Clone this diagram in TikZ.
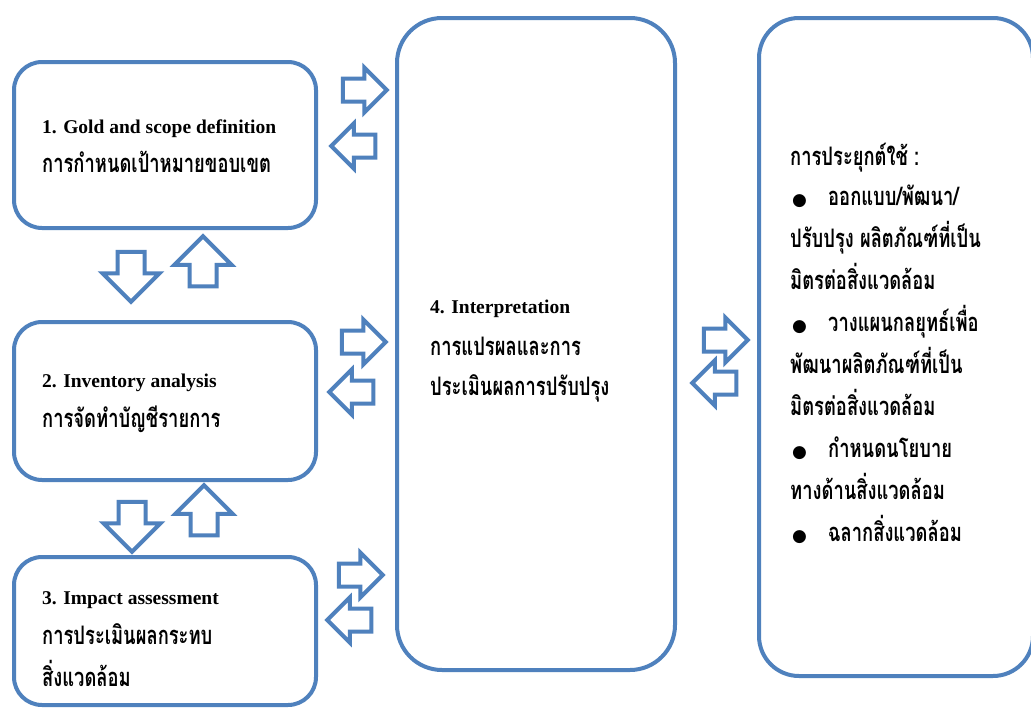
\documentclass[tikz,border=0pt]{standalone}
\usepackage{fontspec}
\setmainfont{Liberation Serif}
\newfontfamily\thaifont[Script=Thai, FakeStretch=0.72]{Loma}
\newfontfamily\dotfont{DejaVu Sans}
\usetikzlibrary{shapes.arrows}
\definecolor{lcablue}{RGB}{79,129,189}

\tikzset{
  stagebox/.style={draw=lcablue, line width=4pt, inner sep=0pt},
  sidearrow/.style={single arrow, draw=lcablue, line width=4pt, fill=white,
    minimum height=44pt, minimum width=0pt, inner sep=9.5pt, single arrow head extend=11pt},
  steparrow/.style={single arrow, draw=lcablue, line width=4pt, fill=white,
    minimum height=50pt, minimum width=0pt, inner sep=11.5pt, single arrow head extend=15pt},
  entxt/.style={font=\fontsize{19.5}{22}\selectfont\bfseries, inner sep=0pt, anchor=base west},
  thtxt/.style={font=\fontsize{25.5}{28}\selectfont\thaifont\bfseries, inner sep=0pt, anchor=base west},
  bul/.style={font=\fontsize{17}{20}\selectfont\dotfont, inner sep=0pt, anchor=base west},
}

\begin{document}
\begin{tikzpicture}[x=1pt,y=-1pt]
        \useasboundingbox (0,0) rectangle (1031,707);
        \clip (0,0) rectangle (1031,707);
        \fill[white] (0,0) rectangle (1031,707);

        % boxes
        \node[stagebox, rounded corners=28pt, minimum width=302pt, minimum height=166pt] (gold) at (165,145) {};
        \node[stagebox, rounded corners=28pt, minimum width=302pt, minimum height=158pt] (inv) at (165,401) {};
        \node[stagebox, rounded corners=28pt, minimum width=302pt, minimum height=148pt] (impact) at (165,631) {};
        \node[stagebox, rounded corners=45pt, minimum width=278pt, minimum height=652pt] (interp) at (536,344) {};
        \node[stagebox, rounded corners=40pt, minimum width=274pt, minimum height=658pt] (appl) at (896,347) {};

        % arrows
        \node[sidearrow] (a1r) at (359,90) {};
        \node[sidearrow, rotate=180] (a1l) at (359,146) {};
        \node[sidearrow] (a2r) at (358,342) {};
        \node[sidearrow, rotate=180] (a2l) at (357,392) {};
        \node[sidearrow] (a3r) at (355,575) {};
        \node[sidearrow, rotate=180] (a3l) at (355,620) {};
        \node[sidearrow] (a4r) at (720,340) {};
        \node[sidearrow, rotate=180] (a4l) at (720,383) {};
        \node[steparrow, rotate=-90] (d12) at (131,270) {};
        \node[steparrow, rotate=90] (u12) at (203,268) {};
        \node[steparrow, rotate=-90] (d23) at (132,520) {};
        \node[steparrow, rotate=90] (u23) at (204,517) {};

        % texts
        \node[entxt] (t1a) at (42,133) {1. Gold and scope definition};
        \node[thtxt] (t1b) at (42,172) {การกำหนดเป้าหมายขอบเขต};
        \node[entxt] (t2a) at (42,387) {2. Inventory analysis};
        \node[thtxt] (t2b) at (42,427) {การจัดทำบัญชีรายการ};
        \node[entxt] (t3a) at (42,604) {3. Impact assessment};
        \node[thtxt] (t3b) at (42,644) {การประเมินผลกระทบ};
        \node[thtxt] (t3c) at (42,686) {สิ่งแวดล้อม};
        \node[entxt] (t4a) at (430,313) {4. Interpretation};
        \node[thtxt] (t4b) at (430,355) {การแปรผลและการ};
        \node[thtxt] (t4c) at (430,395) {ประเมินผลการปรับปรุง};

        \node[thtxt] (t5a) at (790,165) {การประยุกต์ใช้ :};
        \node[bul] (b1) at (792,205) {●};
        \node[thtxt] (t5b) at (828,205) {ออกแบบ/พัฒนา/};
        \node[thtxt] (t5c) at (790,247) {ปรับปรุง ผลิตภัณฑ์ที่เป็น};
        \node[thtxt] (t5d) at (790,289) {มิตรต่อสิ่งแวดล้อม};
        \node[bul] (b2) at (792,331) {●};
        \node[thtxt] (t5e) at (828,331) {วางแผนกลยุทธ์เพื่อ};
        \node[thtxt] (t5f) at (790,373) {พัฒนาผลิตภัณฑ์ที่เป็น};
        \node[thtxt] (t5g) at (790,415) {มิตรต่อสิ่งแวดล้อม};
        \node[bul] (b3) at (792,457) {●};
        \node[thtxt] (t5h) at (828,457) {กำหนดนโยบาย};
        \node[thtxt] (t5i) at (790,499) {ทางด้านสิ่งแวดล้อม};
        \node[bul] (b4) at (792,541) {●};
        \node[thtxt] (t5j) at (828,541) {ฉลากสิ่งแวดล้อม};
        \end{tikzpicture}
\end{document}
